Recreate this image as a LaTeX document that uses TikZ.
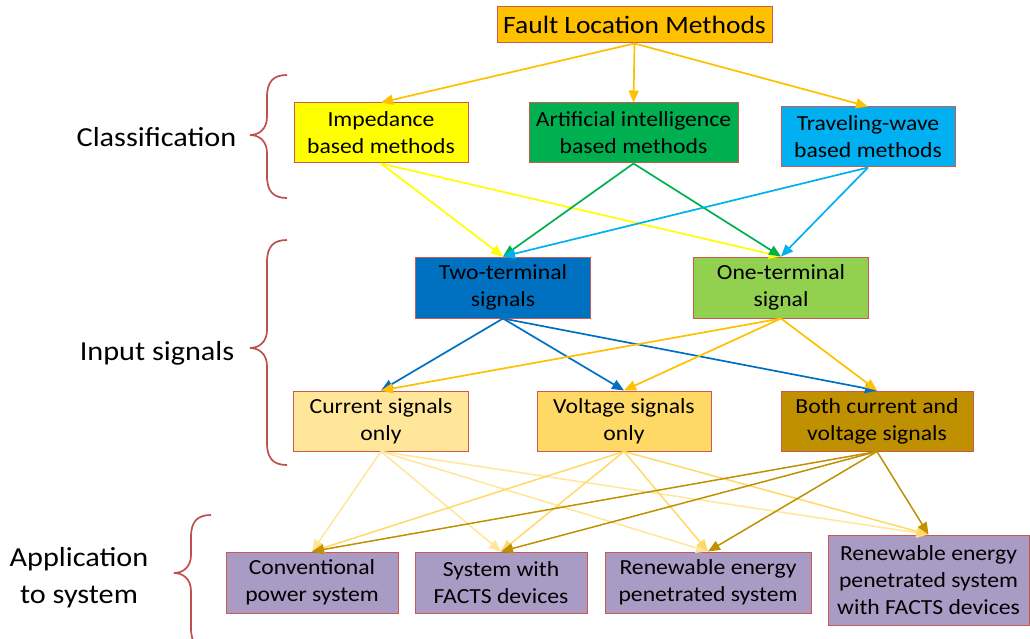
\documentclass[tikz,border=0pt]{standalone}
\usepackage{fontspec}
\setmainfont{Carlito}[FakeStretch=1.1]
\usetikzlibrary{arrows.meta, positioning}

\definecolor{edgered}{HTML}{C85A52}
\definecolor{bracered}{HTML}{C0504D}
\definecolor{faultc}{HTML}{FFC000}
\definecolor{impc}{HTML}{FFFF00}
\definecolor{aic}{HTML}{00B050}
\definecolor{twc}{HTML}{00B0F0}
\definecolor{twoc}{HTML}{0070C0}
\definecolor{onec}{HTML}{92D050}
\definecolor{curc}{HTML}{FFE699}
\definecolor{volc}{HTML}{FFD966}
\definecolor{bothc}{HTML}{BF9000}
\definecolor{appc}{HTML}{A99BC4}

\tikzset{
	box/.style={draw=edgered, line width=1pt, align=center, inner sep=0pt, font=\fontsize{21.5}{27}\selectfont},
	arr/.style={-{Triangle[length=12pt,width=10pt]}, line width=1.7pt},
	sidelabel/.style={align=center, font=\fontsize{27.5}{37}\selectfont},
}

\newcommand{\sidebrace}[4]{%
	\draw[bracered, line width=1.7pt] (#1+37,#2) .. controls (#1+23,#2) and (#1+17,#2+7) .. (#1+17,#2+22)
		-- (#1+17,#3-18) .. controls (#1+17,#3-6) and (#1+9,#3) .. (#1,#3)
		.. controls (#1+9,#3) and (#1+17,#3+6) .. (#1+17,#3+18)
		-- (#1+17,#4-22) .. controls (#1+17,#4-7) and (#1+23,#4) .. (#1+37,#4);}

\begin{document}
\begin{tikzpicture}[x=1pt, y=-1pt]
	\useasboundingbox (0,0) rectangle (1030,639);
	\node[box, fill=faultc, minimum width=275pt, minimum height=36pt, font=\fontsize{25}{29}\selectfont] (flm) at (634.5,25) {Fault Location Methods};
	\node[box, fill=impc, minimum width=174pt, minimum height=60pt] (imp) at (381,133) {Impedance\\based methods};
	\node[box, fill=aic, minimum width=209pt, minimum height=60pt] (ai) at (633.5,133) {Artificial intelligence\\based methods};
	\node[box, fill=twc, minimum width=174pt, minimum height=60pt] (tw) at (868,137) {Traveling-wave\\based methods};
	\node[box, fill=twoc, minimum width=175pt, minimum height=61pt] (two) at (503,287.5) {Two-terminal\\signals};
	\node[box, fill=onec, minimum width=175pt, minimum height=61pt] (one) at (781,287.5) {One-terminal\\signal};
	\node[box, fill=curc, minimum width=175pt, minimum height=60pt] (cur) at (381,421) {Current signals\\only};
	\node[box, fill=volc, minimum width=174pt, minimum height=60pt] (vol) at (624,421) {Voltage signals\\only};
	\node[box, fill=bothc, minimum width=192pt, minimum height=60pt] (both) at (877,421) {Both current and\\voltage signals};
	\node[box, fill=appc, minimum width=172pt, minimum height=61pt] (conv) at (312,582.5) {Conventional\\power system};
	\node[box, fill=appc, minimum width=172pt, minimum height=61pt] (facts) at (501,582.5) {System with\\FACTS devices};
	\node[box, fill=appc, minimum width=206pt, minimum height=61pt] (ren) at (708,582.5) {Renewable energy\\penetrated system};
	\node[box, fill=appc, minimum width=201pt, minimum height=90pt] (renf) at (928.5,580) {Renewable energy\\penetrated system\\with FACTS devices};

	\node[sidelabel] (cls) at (156.5,137) {Classification};
	\node[sidelabel] (inp) at (157,353) {Input signals};
	\node[sidelabel] (app) at (79,578) {Application\\to system};

	\sidebrace{250}{75}{135}{198}
	\sidebrace{250}{240}{348}{465}
	\sidebrace{174}{515}{573}{650}

	\foreach \t in {imp,ai,tw}
		\draw[arr, faultc] (flm.south) -- (\t.north);
	\foreach \s/\c in {imp/impc,ai/aic,tw/twc}
		\foreach \t in {two,one}
			\draw[arr, \c] (\s.south) -- (\t.north);
	\foreach \s/\c in {two/twoc,one/faultc}
		\foreach \t in {cur,vol,both}
			\draw[arr, \c] (\s.south) -- (\t.north);
	\foreach \s/\c in {cur/curc,vol/volc,both/bothc}
		\foreach \t in {conv,facts,ren,renf}
			\draw[arr, line width=1.5pt, \c] (\s.south) -- (\t.north);
\end{tikzpicture}
\end{document}
